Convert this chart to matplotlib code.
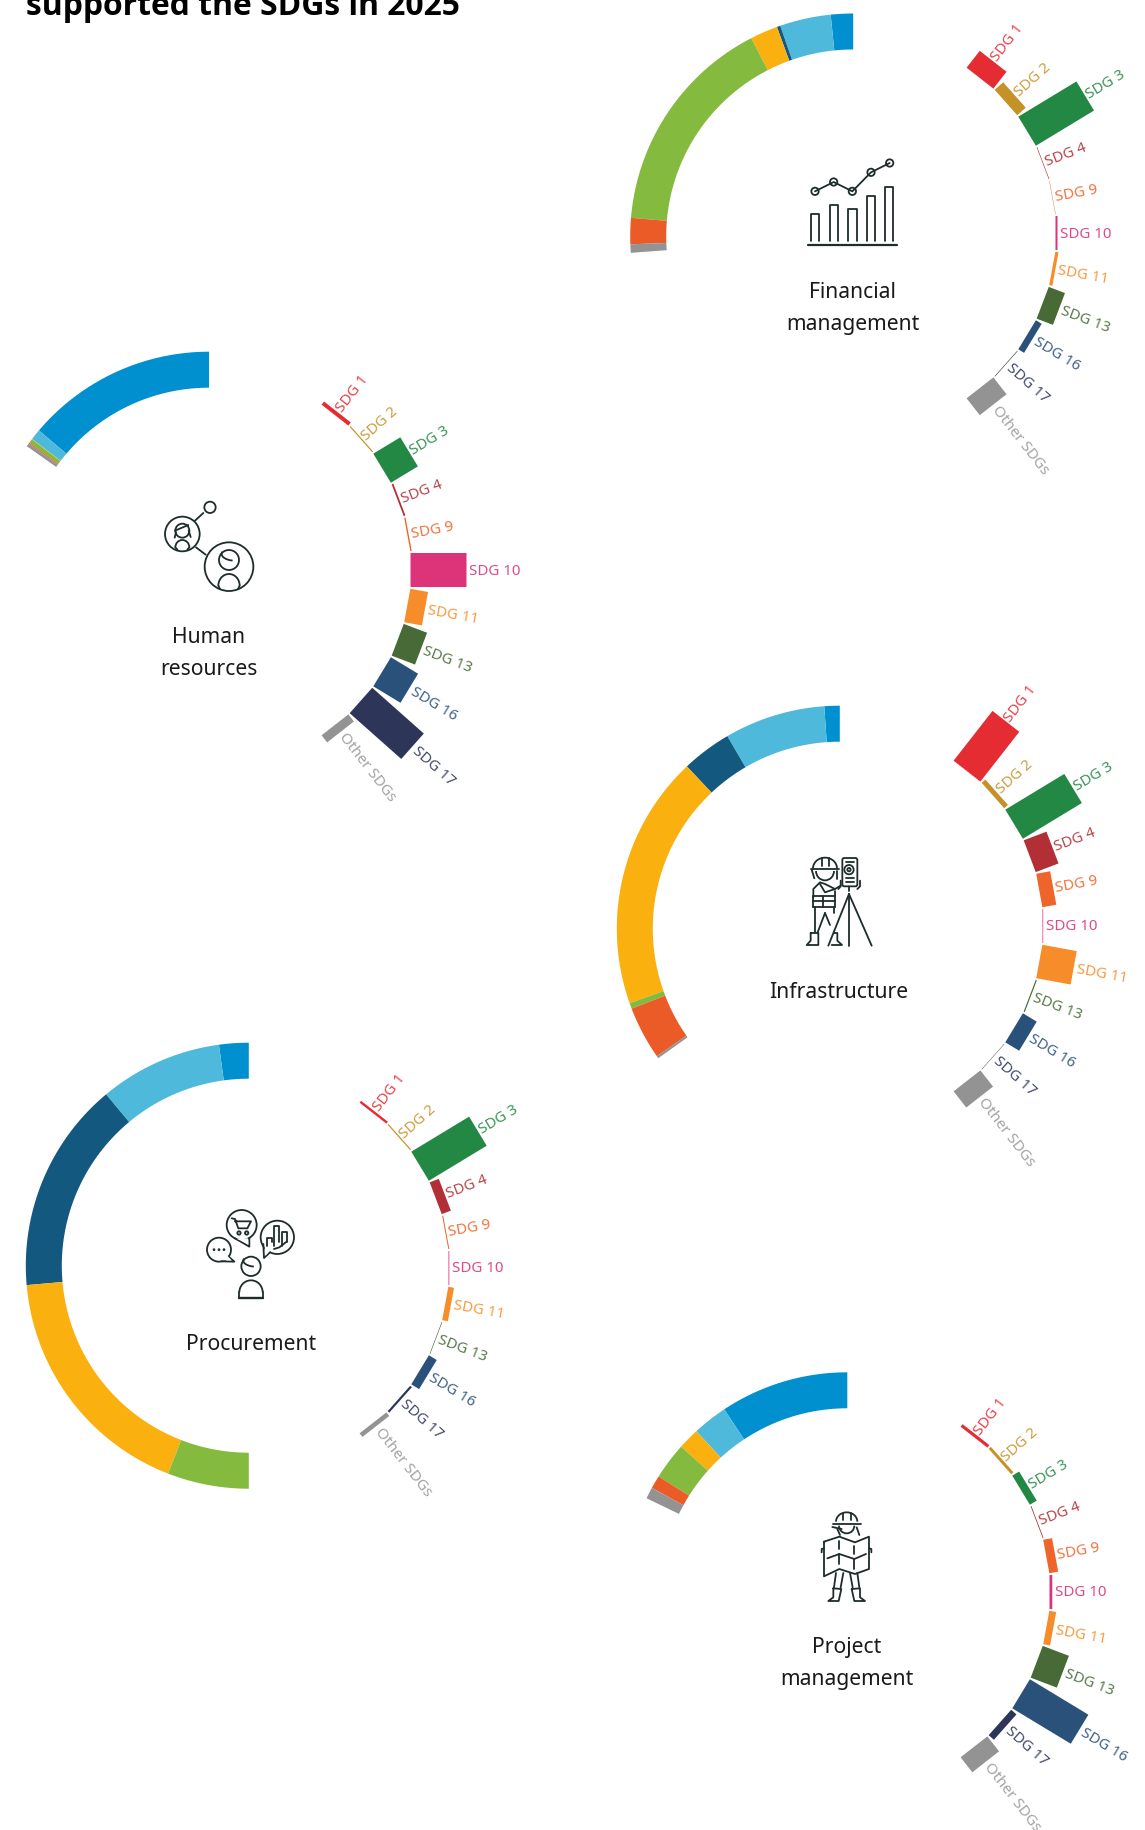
import numpy as np
import matplotlib
matplotlib.use('Agg')
import matplotlib.pyplot as plt
from matplotlib.patches import Polygon, Circle, Arc, FancyBboxPatch

plt.rcParams['font.family'] = ['Noto Sans', 'DejaVu Sans']

sdg_labels = ['SDG 1', 'SDG 2', 'SDG 3', 'SDG 4', 'SDG 9', 'SDG 10', 'SDG 11', 'SDG 13', 'SDG 16', 'SDG 17', 'Other SDGs']
sdg_colors = ['#E52C33', '#C59228', '#238843', '#B22F36', '#EE642B', '#DD3379', '#F68D2A', '#476A37', '#2A5179', '#2D3559', '#939393']
label_colors = ['#E8434A', '#CB9E3F', '#3A9558', '#BA444A', '#F0743F', '#E04A89', '#F79A41', '#597A4A', '#3F628A', '#424A6B', '#A3A3A3']

# arc segments in degrees, running counter-clockwise from 12 o'clock
arc_colors = ['#0090CF', '#4FB9DB', '#13587F', '#FAB10F', '#84BA3E', '#EB5B28', '#939393']
financial_arc = [5.8, 13.3, 0.9, 7.2, 58.0, 6.8, 2.2]
human_arc = [49.7, 2.8, 0.0, 0.1, 1.1, 0.3, 0.8]
infrastructure_arc = [4.0, 26.3, 13.0, 66.2, 1.5, 13.9, 0.6]
procurement_arc = [7.7, 32.1, 55.2, 63.8, 21.2, 0.0, 0.0]
project_arc = [33.5, 9.1, 0.0, 5.6, 9.6, 3.4, 3.0]

# radial bars, one value per label
financial_bars = [10.7, 5.7, 34.0, 0.3, 0.2, 1.0, 1.6, 8.7, 3.4, 0.3, 10.7]
human_bars = [2.0, 0.6, 15.8, 0.9, 0.7, 28.0, 9.0, 12.5, 15.9, 34.5, 4.5]
infrastructure_bars = [31.6, 2.5, 34.5, 12.2, 7.1, 0.35, 17.5, 0.6, 8.1, 0.2, 10.3]
procurement_bars = [1.2, 0.6, 33.8, 4.9, 0.5, 0.4, 2.9, 0.3, 4.6, 1.1, 2.3]
project_bars = [1.6, 1.5, 4.0, 0.4, 4.5, 1.4, 3.5, 14.0, 34.2, 3.5, 9.5]

INK = '#1E2C2C'
PX_PER_UNIT = 2.0
BAR_RADIUS = 196.5
BAR_WIDTH = 34
ANGLE_STEP = 10.4
ARC_OUTER = 223
ARC_THICK = 36


def draw_arc(ax, segs, cx, cy):
    start = 0.0
    for seg, color in zip(segs, arc_colors):
        if seg > 0:
            t = np.radians(np.linspace(start, start + seg, 60))
            outer = np.column_stack([cx - ARC_OUTER * np.sin(t), cy - ARC_OUTER * np.cos(t)])
            inner = np.column_stack([cx - (ARC_OUTER - ARC_THICK) * np.sin(t), cy - (ARC_OUTER - ARC_THICK) * np.cos(t)])
            ax.add_patch(Polygon(np.vstack([outer, inner[::-1]]), closed=True, fc=color, ec='none'))
        start += seg


def draw_bars(ax, values, cx, cy):
    for i, (val, lab) in enumerate(zip(values, sdg_labels)):
        ang = 52 - ANGLE_STEP * i
        th = np.radians(ang)
        rad = np.array([np.cos(th), -np.sin(th)])
        tan = np.array([np.sin(th), np.cos(th)])
        base = np.array([cx, cy]) + BAR_RADIUS * rad
        length = val * PX_PER_UNIT
        pts = [base - tan * BAR_WIDTH / 2, base + tan * BAR_WIDTH / 2,
               base + tan * BAR_WIDTH / 2 + rad * length, base - tan * BAR_WIDTH / 2 + rad * length]
        ax.add_patch(Polygon(pts, closed=True, fc=sdg_colors[i], ec='none', snap=False))
        pos = base + rad * (length + 2.5)
        ax.text(pos[0], pos[1], lab, color=label_colors[i], fontsize=10.9, rotation=ang,
                rotation_mode='anchor', ha='left', va='center')


def draw_name(ax, lines, x, baseline):
    for i, line in enumerate(lines):
        ax.text(x, baseline + i * 32.3, line, color='#1A1A1A', fontsize=15.2, ha='center', va='baseline')


class Icon:
    # icon strokes are given in crop space: 3 units per pixel from a corner
    def __init__(self, ax, x0, y0):
        self.ax, self.x0, self.y0 = ax, x0, y0

    def pt(self, x, y):
        return self.x0 + x / 3, self.y0 + y / 3

    def line(self, *pts, lw=1.3):
        xy = [self.pt(*p) for p in pts]
        self.ax.plot([p[0] for p in xy], [p[1] for p in xy], color=INK, lw=lw, solid_capstyle='round', solid_joinstyle='round')

    def circle(self, x, y, r, lw=1.3):
        self.ax.add_patch(Circle(self.pt(x, y), r / 3, fc='white', ec=INK, lw=lw))

    def arc(self, x, y, rx, ry, a, b, lw=1.3):
        # image y points down, so angles run clockwise on screen
        self.ax.add_patch(Arc(self.pt(x, y), 2 * rx / 3, 2 * ry / 3, theta1=a, theta2=b, color=INK, lw=lw))


def icon_financial(ax):
    ic = Icon(ax, 780, 140)
    ic.line((85, 318), (350, 318), lw=1.6)
    for left, top in zip([93, 150, 205, 260, 315], [225, 197, 210, 170, 143]):
        ic.line((left, 305), (left, top), (left + 25, top), (left + 25, 305))
    pts = [(105, 157), (161, 129), (217, 157), (273, 100), (329, 72)]
    ic.line(*pts)
    for p in pts:
        ic.circle(p[0], p[1], 11)


def icon_human(ax):
    ic = Icon(ax, 140, 490)
    ic.line((190, 72), (165, 95))
    ic.line((168, 175), (197, 197))
    ic.circle(210, 55, 17)
    ic.circle(127, 135, 52)
    ic.circle(267, 233, 73)
    ic.circle(267, 213, 30)
    ic.arc(267, 290, 32, 35, 180, 360)
    ic.line((235, 290), (240, 300))
    ic.line((299, 290), (294, 300))
    ic.arc(285, 195, 40, 20, 110, 190)
    ic.circle(127, 125, 21)
    ic.arc(127, 175, 21, 22, 180, 360)
    ic.line((106, 175), (112, 182))
    ic.line((148, 175), (142, 182))
    ic.line((105, 125), (145, 108))
    ic.line((108, 130), (104, 146))
    ic.line((146, 125), (152, 144))


def icon_infrastructure(ax):
    ic = Icon(ax, 780, 840)
    ic.arc(135, 88, 36, 32, 180, 360)
    ic.line((93, 90), (177, 90))
    ic.line((125, 58), (125, 80))
    ic.line((147, 58), (147, 80))
    ic.arc(135, 96, 27, 28, 0, 180)
    ic.line((95, 92), (103, 118))
    ic.line((170, 95), (170, 120))
    # torso and vest
    ic.line((100, 175), (100, 150), (120, 130), (135, 135), (165, 150), (182, 140))
    ic.line((120, 135), (135, 160), (165, 150))
    ic.line((165, 155), (165, 205))
    ic.line((100, 172), (165, 172))
    ic.line((100, 187), (165, 187))
    ic.line((100, 203), (165, 203))
    ic.line((100, 172), (100, 203))
    ic.line((130, 172), (130, 203))
    # legs and boots
    ic.line((105, 205), (105, 280))
    ic.line((135, 222), (113, 280))
    ic.line((135, 222), (150, 258))
    ic.line((163, 205), (163, 222))
    ic.line((92, 282), (115, 282), (115, 318), (80, 318), (92, 305), (92, 282))
    ic.line((163, 282), (172, 282), (172, 305), (186, 318), (155, 318))
    # total station on tripod
    ax.add_patch(FancyBboxPatch(ic.pt(187, 57), 45 / 3, 85 / 3, boxstyle='round,pad=0,rounding_size=2', fc='white', ec=INK, lw=1.3))
    ic.circle(207, 92, 14)
    ic.circle(207, 92, 5)
    ic.line((197, 68), (222, 68))
    ic.line((197, 118), (222, 118))
    ic.line((197, 130), (222, 130))
    ic.line((207, 143), (207, 155))
    ic.line((182, 125), (182, 142), (175, 150))
    ic.line((240, 125), (240, 142), (232, 150))
    ic.line((207, 165), (145, 320))
    ic.line((207, 165), (207, 320))
    ic.line((207, 165), (275, 320))


def icon_procurement(ax):
    ic = Icon(ax, 190, 1200)
    ic.circle(155, 78, 45)
    ic.line((135, 118), (178, 143), (178, 118))
    ic.circle(262, 115, 50)
    ic.line((240, 160), (222, 177), (220, 135))
    ic.circle(87, 152, 36)
    ic.line((115, 172), (133, 188), (95, 187))
    # white patches hide the circle behind each tail
    for a, b, c in [((139, 119), (175, 136), (174, 118)), ((240, 156), (226, 170), (224, 140)), ((112, 170), (124, 183), (97, 184))]:
        ax.add_patch(Polygon([ic.pt(*a), ic.pt(*b), ic.pt(*c)], closed=True, fc='white', ec='none', zorder=3))
    ic.line((125, 58), (135, 60), (145, 88), (172, 88), (183, 67), (135, 67))
    ic.circle(147, 102, 5)
    ic.circle(170, 102, 5)
    for x in [72, 87, 102]:
        ic.circle(x, 152, 2, lw=1.0)
    for left, top, right in [(232, 118, 245), (252, 82, 267), (276, 98, 290)]:
        ic.line((left, 140), (left, top), (right, top), (right, 130))
    ic.line((252, 150), (268, 145), (290, 128))
    ic.circle(183, 202, 29)
    ic.arc(198, 185, 38, 18, 110, 190)
    ic.arc(183, 280, 35, 36, 180, 360)
    ic.line((148, 280), (148, 296), (218, 296), (218, 280))
    ic.line((148, 297), (218, 297), lw=1.7)


def icon_project(ax):
    ic = Icon(ax, 800, 1500)
    ic.arc(140, 68, 32, 28, 180, 360)
    ic.line((100, 76), (183, 76))
    ic.line((128, 42), (128, 62))
    ic.line((152, 42), (152, 62))
    ic.arc(140, 80, 23, 23, 0, 180)
    ic.line((97, 84), (125, 90))
    ic.line((112, 90), (120, 108))
    ic.line((170, 85), (178, 108))
    ic.line((72, 128), (118, 113), (165, 130), (207, 113), (207, 210), (165, 225), (118, 210), (72, 232), (72, 128))
    ic.line((118, 125), (118, 150))
    ic.line((118, 165), (118, 195))
    ic.line((163, 140), (163, 165))
    ic.line((163, 180), (163, 210))
    ic.line((82, 178), (118, 165), (163, 180), (198, 165))
    ic.line((72, 148), (65, 150), (65, 160))
    ic.line((207, 148), (214, 150), (214, 160))
    ic.line((108, 222), (102, 265))
    ic.line((130, 222), (122, 265))
    ic.line((150, 222), (158, 265))
    ic.line((172, 222), (178, 265))
    ic.line((100, 268), (124, 270), (116, 306), (85, 306), (100, 295), (100, 268))
    ic.line((155, 270), (180, 268), (180, 295), (195, 306), (163, 306), (155, 270))


fig = plt.figure(figsize=(11.45, 18.31), dpi=100)
ax = fig.add_axes([0, 0, 1, 1])
ax.set_xlim(0, 1145)
ax.set_ylim(1831, 0)
ax.axis('off')

ax.text(26, 15.3, 'supported the SDGs in 2025', family='Open Sans', fontsize=22.95, fontweight='bold',
        color='black', ha='left', va='baseline')

draw_arc(ax, financial_arc, 853.2, 237.5)
draw_bars(ax, financial_bars, 859, 234)
draw_name(ax, ['Financial', 'management'], 852.7, 297.7)
icon_financial(ax)

draw_arc(ax, human_arc, 209, 575.7)
draw_bars(ax, human_bars, 214, 571)
draw_name(ax, ['Human', 'resources'], 208.7, 642.7)
icon_human(ax)

draw_arc(ax, infrastructure_arc, 839.8, 929.7)
draw_bars(ax, infrastructure_bars, 846, 927)
draw_name(ax, ['Infrastructure'], 838.8, 997.7)
icon_infrastructure(ax)

draw_arc(ax, procurement_arc, 248.8, 1266.7)
draw_bars(ax, procurement_bars, 252, 1269)
draw_name(ax, ['Procurement'], 250.8, 1350)
icon_procurement(ax)

draw_arc(ax, project_arc, 847.3, 1596.3)
draw_bars(ax, project_bars, 853, 1593)
draw_name(ax, ['Project', 'management'], 846.7, 1652.7)
icon_project(ax)

fig.savefig('out.png', dpi=100, facecolor='white')
